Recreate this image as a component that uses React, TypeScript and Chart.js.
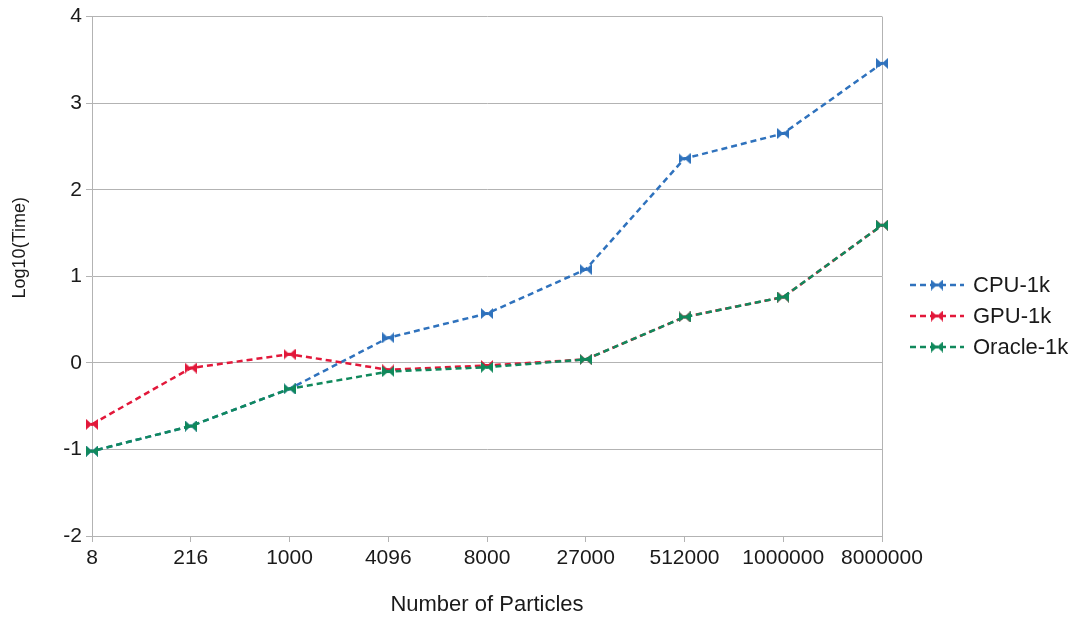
import React, { useEffect, useRef } from "react";
import { Chart, registerables } from "chart.js";

Chart.register(...registerables);

const categories = ["8", "216", "1000", "4096", "8000", "27000", "512000", "1000000", "8000000"];
const cpuValues = [-1.02, -0.73, -0.3, 0.29, 0.57, 1.08, 2.36, 2.65, 3.46];
const gpuValues = [-0.71, -0.06, 0.1, -0.08, -0.03, 0.04, 0.53, 0.76, 1.59];
const oracleValues = [-1.02, -0.73, -0.3, -0.1, -0.05, 0.04, 0.53, 0.76, 1.59];
const seriesNames = ["CPU-1k", "GPU-1k", "Oracle-1k"];
const seriesColors = ["#2f72bd", "#e2183a", "#10895c"];
const yTitle = "Log10(Time)";
const xTitle = "Number of Particles";

const FONT = "'Liberation Sans', Arial, sans-serif";
const GRID = "#b3b3b3";
const TEXT = "#1a1a1a";

function makeBowtie(color: string): HTMLCanvasElement {
  const c = document.createElement("canvas");
  const w = 12;
  const h = 11;
  c.width = w;
  c.height = h;
  const ctx = c.getContext("2d")!;
  ctx.fillStyle = color;
  ctx.beginPath();
  ctx.moveTo(0, 0);
  ctx.lineTo(w / 2, h / 2);
  ctx.lineTo(0, h);
  ctx.closePath();
  ctx.fill();
  ctx.beginPath();
  ctx.moveTo(w, 0);
  ctx.lineTo(w / 2, h / 2);
  ctx.lineTo(w, h);
  ctx.closePath();
  ctx.fill();
  ctx.fillRect(w / 2 - 1.5, h / 2 - 1.5, 3, 3);
  return c;
}

export default function App() {
  const ref = useRef<HTMLCanvasElement | null>(null);

  useEffect(() => {
    if (!ref.current) return;
    const markers = seriesColors.map((c) => makeBowtie(c));
    const dash = [6, 4];

    const extras = {
      id: "extras",
      beforeDatasetsDraw(chart: any) {
        const { ctx, chartArea } = chart;
        ctx.save();
        ctx.strokeStyle = GRID;
        ctx.lineWidth = 1;
        ctx.beginPath();
        ctx.moveTo(Math.round(chartArea.right) + 0.5, chartArea.top);
        ctx.lineTo(Math.round(chartArea.right) + 0.5, chartArea.bottom);
        ctx.stroke();
        ctx.restore();
      },
      afterDraw(chart: any) {
        const { ctx, chartArea } = chart;
        ctx.save();
        // y axis title
        ctx.save();
        ctx.translate(20, chartArea.top + (chartArea.bottom - chartArea.top) * 0.445);
        ctx.rotate(-Math.PI / 2);
        ctx.fillStyle = TEXT;
        ctx.font = `18px ${FONT}`;
        ctx.textAlign = "center";
        ctx.textBaseline = "middle";
        ctx.fillText(yTitle, 0, 0);
        ctx.restore();
        // legend
        const x0 = chartArea.right + 28;
        const rowH = 31;
        const cy = chart.height / 2 + 6;
        seriesNames.forEach((name, i) => {
          const y = cy + (i - 1) * rowH;
          ctx.strokeStyle = seriesColors[i];
          ctx.lineWidth = 2.5;
          ctx.setLineDash(dash);
          ctx.beginPath();
          ctx.moveTo(x0, y);
          ctx.lineTo(x0 + 54, y);
          ctx.stroke();
          ctx.setLineDash([]);
          const m = markers[i];
          ctx.drawImage(m, x0 + 27 - m.width / 2, y - m.height / 2);
          ctx.fillStyle = TEXT;
          ctx.font = `22px ${FONT}`;
          ctx.textBaseline = "middle";
          ctx.textAlign = "left";
          ctx.fillText(name, x0 + 63, y + 1);
        });
        ctx.restore();
      },
    };

    const values = [cpuValues, gpuValues, oracleValues];
    const chart = new Chart(ref.current, {
      type: "line",
      data: {
        labels: categories,
        datasets: seriesNames.map((name, i) => ({
          label: name,
          data: values[i],
          borderColor: seriesColors[i],
          backgroundColor: seriesColors[i],
          borderWidth: 2.5,
          borderDash: dash,
          borderDashOffset: i === 1 ? 0 : 5,
          pointStyle: markers[i],
          pointRadius: 6,
          tension: 0,
          fill: false,
          order: [3, 2, 1][i],
        })),
      },
      options: {
        animation: false,
        responsive: false,
        layout: { padding: { left: 0, right: 199, top: 16, bottom: 0 } },
        plugins: {
          legend: { display: false },
          tooltip: { enabled: false },
        },
        scales: {
          x: {
            offset: false,
            grid: {
              drawOnChartArea: false,
              drawTicks: true,
              tickLength: 6,
              color: GRID,
            },
            border: { color: GRID },
            ticks: {
              color: TEXT,
              font: { family: FONT, size: 21 },
              padding: 4,
              maxRotation: 0,
              autoSkip: false,
            },
            title: {
              display: true,
              text: xTitle,
              color: TEXT,
              font: { family: FONT, size: 22 },
              padding: { top: 0, bottom: 2 },
            },
            afterFit(scale: any) {
              scale.height = 84;
            },
          },
          y: {
            min: -2,
            max: 4,
            grid: { color: GRID, tickLength: 6, drawTicks: true },
            border: { color: GRID },
            ticks: {
              stepSize: 1,
              color: TEXT,
              font: { family: FONT, size: 21 },
              padding: 4,
            },
            title: { display: false },
            afterFit(scale: any) {
              scale.width = 92;
            },
          },
        },
      },
      plugins: [extras],
    });
    return () => chart.destroy();
  }, []);

  return (
    <div style={{ position: "fixed", left: 0, top: 0, width: 1081, height: 620, background: "#fff" }}>
      <canvas ref={ref} width={1081} height={620} style={{ display: "block" }} />
    </div>
  );
}
